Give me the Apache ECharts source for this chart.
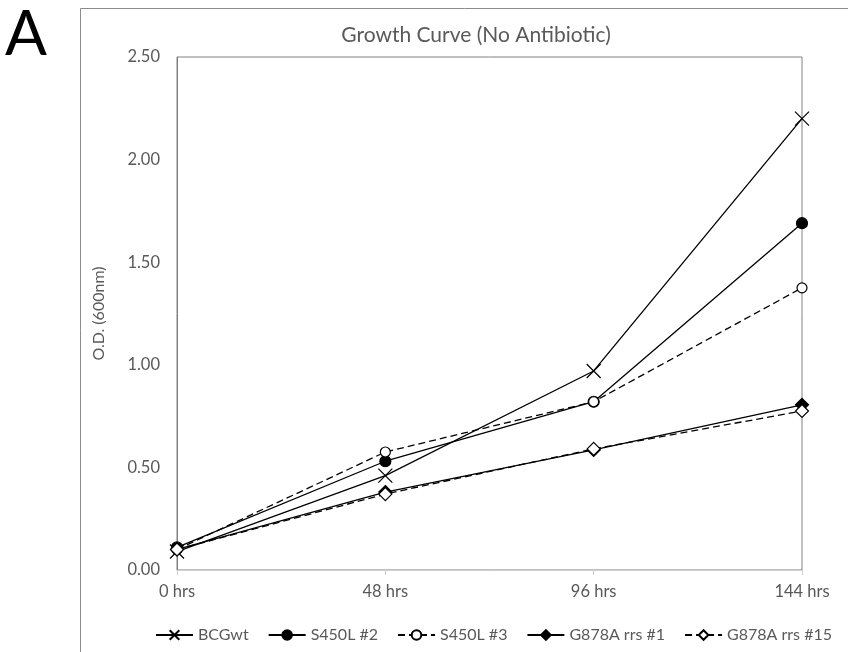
<!DOCTYPE html>
<html>
<head>
<meta charset="utf-8">
<script src="https://cdn.jsdelivr.net/npm/echarts@6/dist/echarts.min.js"></script>
<style>
html,body{margin:0;padding:0;background:#fff;}
#chart{width:848px;height:652px;}
</style>
</head>
<body>
<div id="chart"></div>
<script>
var categories = ['0 hrs', '48 hrs', '96 hrs', '144 hrs'];
var seriesNames = ['BCGwt', 'S450L #2', 'S450L #3', 'G878A rrs #1', 'G878A rrs #15'];
var bcgwt = [0.09, 0.46, 0.97, 2.20];
var s450l2 = [0.11, 0.53, 0.82, 1.69];
var s450l3 = [0.10, 0.575, 0.82, 1.375];
var g878a1 = [0.10, 0.38, 0.585, 0.805];
var g878a15 = [0.10, 0.37, 0.59, 0.775];
var yTicks = [0, 0.5, 1.0, 1.5, 2.0, 2.5];

var font = 'Lato';
var gray = '#595959';
var crossPath = 'path://M0,0L10,10M10,0L0,10';

function mk(name, data, symbol, size, dashed, filled) {
  return {
    name: name, type: 'line', data: data,
    symbol: symbol, symbolSize: size,
    showAllSymbol: true,
    lineStyle: { color: '#000', width: 1.3, type: dashed ? [7, 4] : 'solid' },
    itemStyle: { color: filled ? '#000' : '#fff', borderColor: '#000', borderWidth: 1.2 },
    emphasis: { disabled: true },
    animation: false
  };
}

var chart = echarts.init(document.getElementById('chart'), null, { renderer: 'canvas' });
chart.setOption({
  backgroundColor: '#fff',
  animation: false,
  title: {
    text: 'Growth Curve (No Antibiotic)',
    left: 471, top: 20, textAlign: 'center',
    textStyle: { fontFamily: font, fontSize: 21, fontWeight: 'normal', color: gray }
  },
  graphic: [
    { type: 'line', shape: { x1: 80.5, y1: 8.5, x2: 80.5, y2: 652 }, style: { stroke: '#8c8c8c', lineWidth: 1 } },
    { type: 'line', shape: { x1: 80.5, y1: 8.5, x2: 848, y2: 8.5 }, style: { stroke: '#8c8c8c', lineWidth: 1 } },
    { type: 'text', left: 5, top: 4, style: { text: 'A', fontFamily: font, fontSize: 62, fill: '#000' } }
  ],
  legend: {
    data: seriesNames,
    left: 150, top: 622,
    itemWidth: 37, itemHeight: 12, itemGap: 19,
    textStyle: { fontFamily: font, fontSize: 16, color: gray }
  },
  grid: {
    left: 177, right: 46, top: 57, bottom: 82,
    show: true, borderColor: '#808080', borderWidth: 1, containLabel: false
  },
  xAxis: {
    type: 'category', data: categories, boundaryGap: false,
    axisLine: { lineStyle: { color: '#d0d0d0', width: 1 } },
    axisTick: { show: true, length: 5, lineStyle: { color: '#d0d0d0' } },
    axisLabel: { fontFamily: font, fontSize: 16.5, color: gray, margin: 13 },
    splitLine: { show: false }
  },
  yAxis: {
    type: 'value', min: 0, max: 2.5, interval: 0.5,
    name: 'O.D. (600nm)', nameLocation: 'middle', nameGap: 70, nameRotate: 90,
    nameTextStyle: { fontFamily: font, fontSize: 16, color: gray },
    axisLine: { show: true, lineStyle: { color: '#808080' } },
    axisTick: { show: false },
    axisLabel: { fontFamily: font, fontSize: 16.5, color: gray, margin: 17,
      formatter: function (v) { return v.toFixed(2); } },
    splitLine: { show: false }
  },
  series: [
    mk(seriesNames[0], bcgwt, crossPath, 14, false, false),
    mk(seriesNames[1], s450l2, 'circle', 11, false, true),
    mk(seriesNames[2], s450l3, 'circle', 10, true, false),
    mk(seriesNames[3], g878a1, 'diamond', 13, false, true),
    mk(seriesNames[4], g878a15, 'diamond', 13, true, false)
  ]
});
</script>
</body>
</html>
